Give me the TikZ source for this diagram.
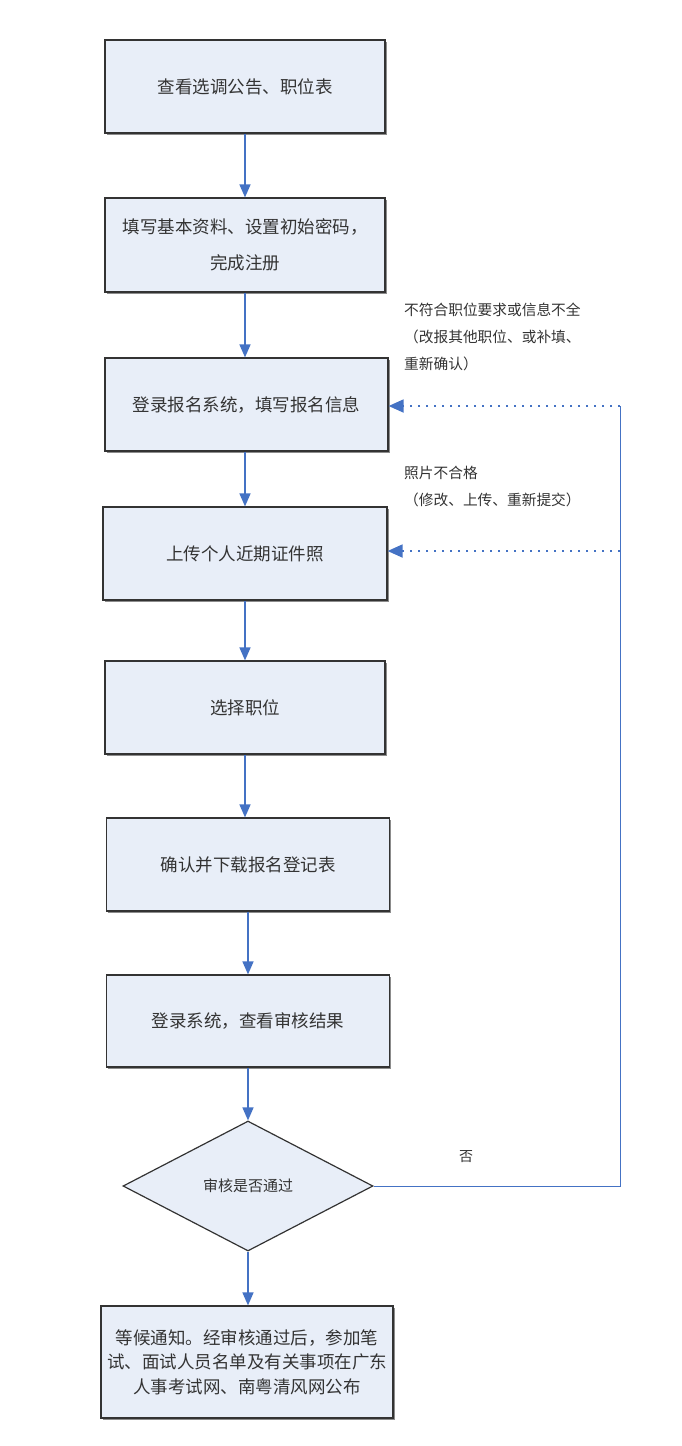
\documentclass[tikz,border=0pt]{standalone}
\usepackage{fontspec}
\setmainfont{Noto Sans CJK SC}
\usetikzlibrary{shapes.geometric,arrows.meta,shadows}
\definecolor{boxfill}{HTML}{E8EEF8}
\definecolor{flowblue}{HTML}{4472C4}
\definecolor{txt}{HTML}{333333}
\begin{document}
\begin{tikzpicture}[x=1pt,y=-1pt,
  stepbox/.style={draw=black!80,line width=1.2pt,fill=boxfill,inner sep=0pt,
    align=center,text=txt,font=\fontsize{17.5}{36}\selectfont,
    drop shadow={shadow xshift=1.5pt,shadow yshift=-1.5pt,fill=black!45,opacity=1}},
  decide/.style={shape=diamond,draw=black!80,line width=1.2pt,fill=boxfill,inner sep=0pt,
    minimum width=250pt,minimum height=130pt,text=txt,font=\fontsize{15}{18}\selectfont},
  flow/.style={flowblue,line width=1.6pt,-{Triangle[width=11pt,length=13pt]}},
  back/.style={flowblue,line width=1.8pt,dash pattern=on 1.6pt off 6.4pt,-{Triangle[width=13pt,length=15pt]}},
  note/.style={text=txt,align=left,inner sep=0pt,font=\fontsize{14.7}{27}\selectfont}]
\useasboundingbox (0,0) rectangle (682,1446);
\node[stepbox,minimum width=280pt,minimum height=93pt] (b1) at (245,86.5) {查看选调公告、职位表};
\node[stepbox,minimum width=280pt,minimum height=94pt] (b2) at (245,245) {填写基本资料、设置初始密码，\\完成注册};
\node[stepbox,minimum width=283pt,minimum height=93pt] (b3) at (246.5,404.5) {登录报名系统，填写报名信息};
\node[stepbox,minimum width=284pt,minimum height=93pt] (b4) at (245,553.5) {上传个人近期证件照};
\node[stepbox,minimum width=280pt,minimum height=93pt] (b5) at (245,707.5) {选择职位};
\node[stepbox,minimum width=283pt,minimum height=93pt] (b6) at (248,864.5) {确认并下载报名登记表};
\node[stepbox,minimum width=283pt,minimum height=92pt] (b7) at (248,1021) {登录系统，查看审核结果};
\node[decide] (d) at (248,1186) {审核是否通过};
\node[stepbox,minimum width=292pt,minimum height=112pt,font=\fontsize{17.5}{24.5}\selectfont] (b8) at (247,1362)
  {等候通知。经审核通过后，参加笔\\试、面试人员名单及有关事项在广东\\人事考试网、南粤清风网公布};
\draw[flow] (b1.south) -- (b1.south |- b2.north);
\draw[flow] (b2.south) -- (b2.south |- b3.north);
\draw[flow] (b3.south -| b4.north) -- (b4.north);
\draw[flow] (b4.south) -- (b4.south |- b5.north);
\draw[flow] (b5.south) -- (b5.south |- b6.north);
\draw[flow] (b6.south) -- (b6.south |- b7.north);
\draw[flow] (b7.south) -- (b7.south |- d.north);
\draw[flow] (d.south) -- (d.south |- b8.north);
\coordinate (r1) at (620,406);
\coordinate (r2) at (620,551);
\draw[flowblue,line width=1pt] (d.east) -| (r1);
\draw[back] (r1) -- (r1 -| b3.east);
\draw[back] (r2) -- (r2 -| b4.east);
\node[note,anchor=north west] (n1) at (404,303) {不符合职位要求或信息不全\\（改报其他职位、或补填、\\重新确认）};
\node[note,anchor=north west] (n2) at (404,466) {照片不合格\\（修改、上传、重新提交）};
\node[note,anchor=north west,font=\fontsize{14}{16}\selectfont] (no) at (459,1150) {否};
\end{tikzpicture}
\end{document}
